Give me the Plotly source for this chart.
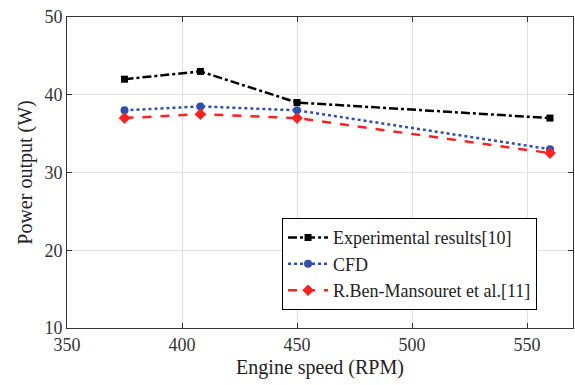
import plotly.graph_objects as go

rpm_exp = [375, 408, 450, 560]
exp_vals = [42, 43, 39, 37]
rpm_cfd = [375, 408, 450, 560]
cfd_vals = [38, 38.5, 38, 33]
rpm_ben = [375, 408, 450, 560]
ben_vals = [37, 37.5, 37, 32.5]

SERIF = "Liberation Serif, Times New Roman, serif"

fig = go.Figure()
fig.add_trace(go.Scatter(x=rpm_exp, y=exp_vals, mode="lines+markers", name="Experimental results[10]",
                         line=dict(color="black", width=2.5, dash="dashdot"),
                         marker=dict(symbol="square", size=7, color="black")))
fig.add_trace(go.Scatter(x=rpm_cfd, y=cfd_vals, mode="lines+markers", name="CFD",
                         line=dict(color="#2f4fb0", width=2.5, dash="dot"),
                         marker=dict(symbol="circle", size=8, color="#2f4fb0")))
fig.add_trace(go.Scatter(x=rpm_ben, y=ben_vals, mode="lines+markers", name="R.Ben-Mansouret et al.[11]",
                         line=dict(color="#ff2020", width=2.5, dash="dash"),
                         marker=dict(symbol="diamond", size=9, color="#ff2020")))

axis_common = dict(showline=True, linecolor="#333", linewidth=1, mirror="ticks", ticks="inside",
                   ticklen=5, tickcolor="#333", showgrid=True, gridcolor="#e0e0e0", gridwidth=1,
                   zeroline=False, tickfont=dict(family=SERIF, size=18, color="#333"),
                   title_font=dict(family=SERIF, size=20, color="#222"))

fig.update_xaxes(range=[350, 570], tickvals=[350, 400, 450, 500, 550],
                 title_text="Engine speed (RPM)", title_standoff=6, **axis_common)
fig.update_yaxes(range=[10, 50], tickvals=[10, 20, 30, 40, 50],
                 title_text="Power output (W)", title_standoff=6, **axis_common)

fig.update_layout(width=575, height=385, margin=dict(l=67, r=2, t=17, b=57),
                  plot_bgcolor="white", paper_bgcolor="white",
                  font=dict(family=SERIF, color="#222"),
                  legend=dict(x=0.425, y=0.205, xanchor="left", yanchor="middle",
                              bordercolor="black", borderwidth=1, bgcolor="white",
                              font=dict(family=SERIF, size=18, color="#222"),
                              tracegroupgap=0, itemwidth=40))

fig.write_html("out.html")
